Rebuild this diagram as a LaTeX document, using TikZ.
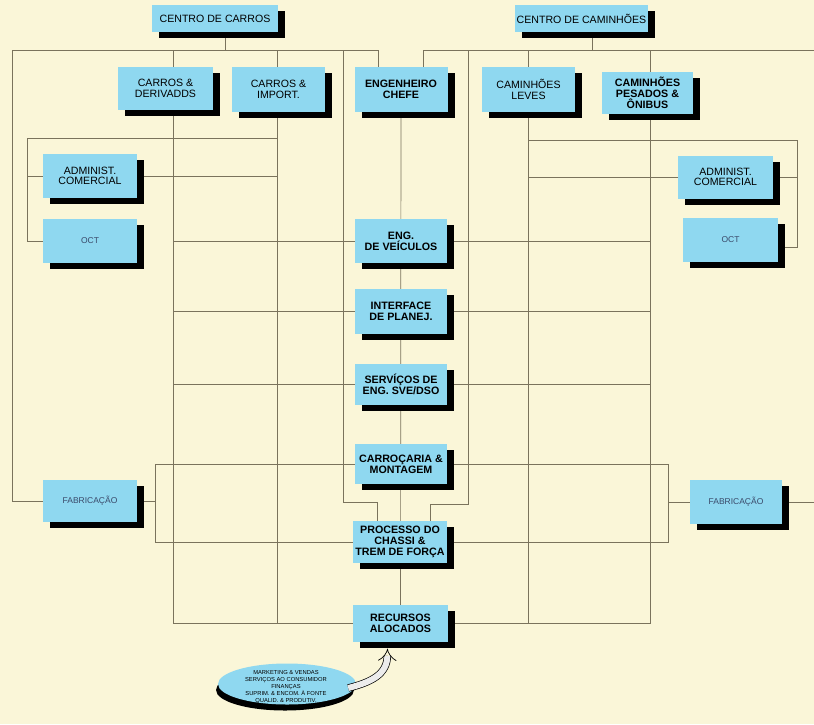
\documentclass[tikz,border=0pt]{standalone}
\usepackage{fontspec}
\setmainfont{Liberation Sans}
\usetikzlibrary{shadows,backgrounds,shapes.geometric,arrows.meta}
\definecolor{bgc}{HTML}{FAF6D8}
\definecolor{boxc}{HTML}{8FD8F0}
\definecolor{linec}{HTML}{7A735C}
\definecolor{smallt}{HTML}{3A4A6A}
\begin{document}
\begin{tikzpicture}[x=1pt,y=-1pt,
  box/.style={fill=boxc, inner sep=0pt, align=center,
    general shadow={fill=black,shadow xshift=7pt,shadow yshift=-6pt}},
  bt/.style={font=\fontsize{10.7}{11}\selectfont\bfseries},
  rt/.style={font=\fontsize{10.6}{10.6}\selectfont},
  st/.style={font=\fontsize{8.5}{9}\selectfont, text=smallt},
  ln/.style={draw=linec, line width=0.7pt}]
\useasboundingbox (0,0) rectangle (814,724);

% top level
\node[box,rt,minimum width=126pt,minimum height=27pt] (cc) at (215,18.5) {CENTRO DE CARROS};
\node[box,rt,minimum width=133pt,minimum height=27pt] (ccam) at (581.5,18.5) {CENTRO DE CAMINHÕES};

% second row
\node[box,rt,minimum width=95pt,minimum height=43pt] (cd) at (165.5,88.5) {CARROS \&\\DERIVADDS};
\node[box,rt,minimum width=93pt,minimum height=45pt] (ci) at (278.5,89.5) {CARROS \&\\IMPORT.};
\node[box,bt,minimum width=93pt,minimum height=45pt] (chefe) at (401,89.5) {ENGENHEIRO\\CHEFE};
\node[box,rt,minimum width=93pt,minimum height=45pt] (cl) at (528.5,89.5) {CAMINHÕES\\LEVES};
\node[box,bt,minimum width=91pt,minimum height=42pt] (cp) at (647.5,93) {CAMINHÕES\\PESADOS \&\\ÔNIBUS};

% side boxes
\node[box,rt,minimum width=94pt,minimum height=44pt] (adml) at (90,176) {ADMINIST.\\COMERCIAL};
\node[box,st,minimum width=94pt,minimum height=44pt] (octl) at (90,241) {OCT};
\node[box,rt,minimum width=95pt,minimum height=43pt] (admr) at (725.5,177) {ADMINIST.\\COMERCIAL};
\node[box,st,minimum width=95pt,minimum height=44pt] (octr) at (730.5,240) {OCT};
\node[box,st,minimum width=94pt,minimum height=42pt] (fabl) at (90,501) {FABRICAÇÃO};
\node[box,st,minimum width=92pt,minimum height=44pt] (fabr) at (736,502) {FABRICAÇÃO};

% centre column
\node[box,bt,minimum width=92pt,minimum height=44pt] (eng) at (401,241) {ENG.\\DE VEÍCULOS};
\node[box,bt,minimum width=92pt,minimum height=45pt] (intf) at (401,311) {INTERFACE\\DE PLANEJ.};
\node[box,bt,minimum width=92pt,minimum height=41pt] (serv) at (401,384) {SERVÍÇOS DE\\ENG. SVE/DSO};
\node[box,bt,minimum width=92pt,minimum height=40pt] (carr) at (401,464) {CARROÇARIA \&\\MONTAGEM};
\node[box,bt,minimum width=94pt,minimum height=42pt] (proc) at (400,542) {PROCESSO DO\\CHASSI \&\\TREM DE FORÇA};
\node[box,bt,minimum width=95pt,minimum height=37pt] (rec) at (400.5,623) {RECURSOS\\ALOCADOS};

% ellipse
\node[ellipse, fill=boxc, minimum width=138pt, minimum height=41pt, inner sep=0pt,
  general shadow={fill=black, shadow xshift=-2pt, shadow yshift=-6pt}] (mk) at (287,684) {};
\node[align=center, inner sep=0pt, font=\fontsize{5.8}{7}\selectfont] (mkt) at (286,687)
  {MARKETING \& VENDAS\\SERVIÇOS AO CONSUMIDOR\\FINANÇAS\\SUPRIM. \& ENCOM. À FONTE\\QUALID. \& PRODUTIV.};
\draw[draw=black, line width=0.7pt, double=gray!15, double distance=6pt, -{Implies}]
  ([xshift=-8pt,yshift=-4pt]mk.east) .. controls (372,682) and (387,674) .. ([xshift=-13pt,yshift=-7pt]rec.south);

\begin{scope}[on background layer]
\fill[bgc] (0,0) rectangle (814,724);
\coordinate (xa) at (12,50);
\coordinate (xb) at (173,50);
\coordinate (xc) at (225,50);
\coordinate (xd) at (277,50);
\coordinate (xe) at (343,50);
\coordinate (xf) at (378,50);
\coordinate (xg) at (423,50);
\coordinate (xh) at (468,50);
\coordinate (xi) at (528,50);
\coordinate (xj) at (592,50);
\coordinate (xk) at (650,50);
\coordinate (xl) at (814,50);
\coordinate (je) at (343,502);
\coordinate (jf) at (377,502);
\coordinate (jh) at (468,504);
\coordinate (ji) at (430,504);
\coordinate (la) at (27,138);
\coordinate (ra) at (797,140);
\coordinate (rb) at (797,247);
\coordinate (fa) at (155,0);
\coordinate (fb) at (668,0);

% top bars
\draw[ln] (xa) -- (xf);
\draw[ln] (xg) -- (xl);
\draw[ln] (xc) -- (xc |- cc.south);
\draw[ln] (xj) -- (xj |- ccam.south);
\draw[ln] (xf) -- (xf |- chefe.north);
\draw[ln] (xg) -- (xg |- chefe.north);

% long verticals
\draw[ln] (xa) -- (xa |- fabl.west) -- (fabl.west);
\draw[ln] (xb) -- (xb |- rec.west) -- (rec.west);
\draw[ln] (xd) -- (xd |- rec.west);
\draw[ln] (xi) -- (xi |- rec.east);
\draw[ln] (xk) -- (xk |- rec.east) -- (rec.east);
\draw[ln] (xe) -- (je) -- (jf) -- (jf |- proc.north);
\draw[ln] (xh) -- (jh) -- (ji) -- (ji |- proc.north);

% left loop
\draw[ln] (xd |- la) -- (la) -- (la |- octl.west) -- (octl.west);
\draw[ln] (la |- adml.west) -- (xd |- adml.west);
% right loop
\draw[ln] (xi |- ra) -- (ra) -- (rb) -- (rb -| octr.east);
\draw[ln] (xi |- admr.east) -- (ra |- admr.east);

% centre rows
\draw[ln] (xb |- eng.west) -- (eng.west);
\draw[ln] (eng.east) -- (xk |- eng.east);
\draw[ln] (xb |- intf.west) -- (intf.west);
\draw[ln] (intf.east) -- (xk |- intf.east);
\draw[ln] (xb |- serv.west) -- (serv.west);
\draw[ln] (serv.east) -- (xk |- serv.east);
\draw[ln] (carr.west) -- (fa |- carr.west) -- (fa |- proc.west) -- (proc.west);
\draw[ln] (carr.east) -- (fb |- carr.east) -- (fb |- proc.east) -- (proc.east);
\draw[ln] (fabl.east) -- (fa |- fabl.east);
\draw[ln] (fabr.west) -- (fb |- fabr.west);
\draw[ln] (fabr.east) -- (xl |- fabr.east);

% centre spine
\draw[ln] (chefe.center) -- (rec.center);
\end{scope}
\end{tikzpicture}
\end{document}
